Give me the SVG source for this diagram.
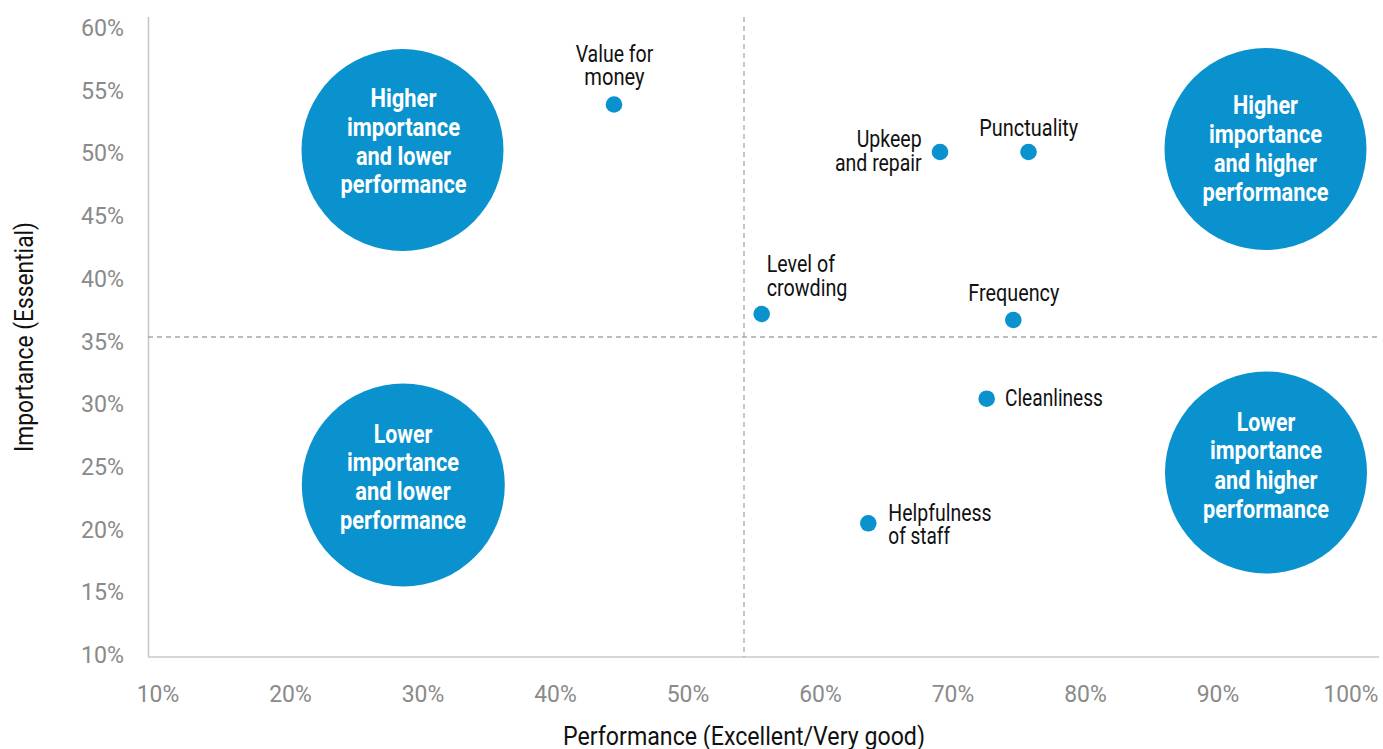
<svg xmlns="http://www.w3.org/2000/svg" width="1383" height="749" viewBox="0 0 1383 749">
<style>
.ax{stroke:#c8c8c8;stroke-width:1.6;fill:none}
.dash{stroke:#a8a8a8;stroke-width:1.3;stroke-dasharray:5 4;fill:none}
.tick{font-family:Roboto,"Liberation Sans",sans-serif;font-size:24px;fill:#8a8a8a}
.ty{text-anchor:end}
.tx{text-anchor:middle}
.title{font-family:Roboto,"Liberation Sans",sans-serif;font-size:25px;fill:#111;text-anchor:middle}
.lbl{font-family:Roboto,"Liberation Sans",sans-serif;font-size:23.5px;fill:#111}
.dot{fill:#0a92cf}
.bub{fill:#0a92cf}
.bt{font-family:Roboto,"Liberation Sans",sans-serif;font-size:25px;font-weight:bold;fill:#fff;text-anchor:middle}
</style>
<rect width="1383" height="749" fill="#fff"/>
<g id="axes">
<line class="ax" x1="148.5" y1="17" x2="148.5" y2="657"/>
<line class="ax" x1="148" y1="657" x2="1379" y2="657"/>
<g class="tick ty">
<text x="124" y="36" textLength="43" lengthAdjust="spacingAndGlyphs">60%</text>
<text x="124" y="98.7" textLength="43" lengthAdjust="spacingAndGlyphs">55%</text>
<text x="124" y="161.4" textLength="43" lengthAdjust="spacingAndGlyphs">50%</text>
<text x="124" y="224.1" textLength="43" lengthAdjust="spacingAndGlyphs">45%</text>
<text x="124" y="286.8" textLength="43" lengthAdjust="spacingAndGlyphs">40%</text>
<text x="124" y="349.5" textLength="43" lengthAdjust="spacingAndGlyphs">35%</text>
<text x="124" y="412.2" textLength="43" lengthAdjust="spacingAndGlyphs">30%</text>
<text x="124" y="474.9" textLength="43" lengthAdjust="spacingAndGlyphs">25%</text>
<text x="124" y="537.6" textLength="43" lengthAdjust="spacingAndGlyphs">20%</text>
<text x="124" y="600.3" textLength="43" lengthAdjust="spacingAndGlyphs">15%</text>
<text x="124" y="663" textLength="43" lengthAdjust="spacingAndGlyphs">10%</text>
</g>
<g class="tick tx">
<text x="158" y="701.7" textLength="42.5" lengthAdjust="spacingAndGlyphs">10%</text>
<text x="290.5" y="701.7" textLength="42.5" lengthAdjust="spacingAndGlyphs">20%</text>
<text x="423" y="701.7" textLength="42.5" lengthAdjust="spacingAndGlyphs">30%</text>
<text x="555.5" y="701.7" textLength="42.5" lengthAdjust="spacingAndGlyphs">40%</text>
<text x="688" y="701.7" textLength="42.5" lengthAdjust="spacingAndGlyphs">50%</text>
<text x="820.5" y="701.7" textLength="42.5" lengthAdjust="spacingAndGlyphs">60%</text>
<text x="953" y="701.7" textLength="42.5" lengthAdjust="spacingAndGlyphs">70%</text>
<text x="1085.5" y="701.7" textLength="42.5" lengthAdjust="spacingAndGlyphs">80%</text>
<text x="1218" y="701.7" textLength="42.5" lengthAdjust="spacingAndGlyphs">90%</text>
<text x="1351" y="701.7" textLength="55" lengthAdjust="spacingAndGlyphs">100%</text>
</g>
<text class="title" x="744" y="745" textLength="362" lengthAdjust="spacingAndGlyphs">Performance (Excellent/Very good)</text>
<text class="title" transform="translate(33,337) rotate(-90)" x="0" y="0" textLength="230" lengthAdjust="spacingAndGlyphs">Importance (Essential)</text>
</g>
<g id="connectors">
<line class="dash" x1="744" y1="17" x2="744" y2="657"/>
<line class="dash" x1="148" y1="337" x2="1379" y2="337"/>
</g>
<g id="bubble-high-imp-low-perf">
<circle class="bub" cx="402.5" cy="150" r="101"/>
<text class="bt" x="403.5" y="107" textLength="66" lengthAdjust="spacingAndGlyphs">Higher</text>
<text class="bt" x="403.5" y="136" textLength="113" lengthAdjust="spacingAndGlyphs">importance</text>
<text class="bt" x="403.5" y="165" textLength="95" lengthAdjust="spacingAndGlyphs">and lower</text>
<text class="bt" x="403.5" y="193" textLength="126" lengthAdjust="spacingAndGlyphs">performance</text>
</g>
<g id="bubble-high-imp-high-perf">
<circle class="bub" cx="1265.5" cy="149" r="101"/>
<text class="bt" x="1265.5" y="113.5" textLength="65" lengthAdjust="spacingAndGlyphs">Higher</text>
<text class="bt" x="1265.5" y="142.5" textLength="113" lengthAdjust="spacingAndGlyphs">importance</text>
<text class="bt" x="1265.5" y="172" textLength="103" lengthAdjust="spacingAndGlyphs">and higher</text>
<text class="bt" x="1265.5" y="200.5" textLength="126" lengthAdjust="spacingAndGlyphs">performance</text>
</g>
<g id="bubble-low-imp-low-perf">
<circle class="bub" cx="403.3" cy="485" r="101.5"/>
<text class="bt" x="403" y="442.5" textLength="58.5" lengthAdjust="spacingAndGlyphs">Lower</text>
<text class="bt" x="403" y="471" textLength="112" lengthAdjust="spacingAndGlyphs">importance</text>
<text class="bt" x="403" y="500" textLength="95.5" lengthAdjust="spacingAndGlyphs">and lower</text>
<text class="bt" x="403" y="529" textLength="126" lengthAdjust="spacingAndGlyphs">performance</text>
</g>
<g id="bubble-low-imp-high-perf">
<circle class="bub" cx="1266" cy="472.5" r="101"/>
<text class="bt" x="1266" y="430.5" textLength="58.5" lengthAdjust="spacingAndGlyphs">Lower</text>
<text class="bt" x="1266" y="459" textLength="112" lengthAdjust="spacingAndGlyphs">importance</text>
<text class="bt" x="1266" y="488.5" textLength="103" lengthAdjust="spacingAndGlyphs">and higher</text>
<text class="bt" x="1266" y="517.5" textLength="126" lengthAdjust="spacingAndGlyphs">performance</text>
</g>
<g id="value-for-money">
<circle class="dot" cx="614" cy="104.5" r="8.3"/>
<text class="lbl" x="614.5" y="61.7" text-anchor="middle" textLength="77.7" lengthAdjust="spacingAndGlyphs">Value for</text>
<text class="lbl" x="614.5" y="85" text-anchor="middle" textLength="60.3" lengthAdjust="spacingAndGlyphs">money</text>
</g>
<g id="upkeep-and-repair">
<circle class="dot" cx="940" cy="152" r="8.3"/>
<text class="lbl" x="921.7" y="147" text-anchor="end" textLength="65" lengthAdjust="spacingAndGlyphs">Upkeep</text>
<text class="lbl" x="921.7" y="170.5" text-anchor="end" textLength="86.7" lengthAdjust="spacingAndGlyphs">and repair</text>
</g>
<g id="punctuality">
<circle class="dot" cx="1028.5" cy="152" r="8.3"/>
<text class="lbl" x="979.3" y="136" textLength="99" lengthAdjust="spacingAndGlyphs">Punctuality</text>
</g>
<g id="level-of-crowding">
<circle class="dot" cx="761.7" cy="314" r="8.3"/>
<text class="lbl" x="766.7" y="272.3" textLength="68.3" lengthAdjust="spacingAndGlyphs">Level of</text>
<text class="lbl" x="766.7" y="295.5" textLength="80.7" lengthAdjust="spacingAndGlyphs">crowding</text>
</g>
<g id="frequency">
<circle class="dot" cx="1013.3" cy="320" r="8.3"/>
<text class="lbl" x="968.3" y="301" textLength="91" lengthAdjust="spacingAndGlyphs">Frequency</text>
</g>
<g id="cleanliness">
<circle class="dot" cx="986.7" cy="398.7" r="8.3"/>
<text class="lbl" x="1005" y="405.7" textLength="98" lengthAdjust="spacingAndGlyphs">Cleanliness</text>
</g>
<g id="helpfulness-of-staff">
<circle class="dot" cx="868.3" cy="523.3" r="8.3"/>
<text class="lbl" x="888.3" y="520.7" textLength="103.3" lengthAdjust="spacingAndGlyphs">Helpfulness</text>
<text class="lbl" x="888.3" y="544.3" textLength="61.7" lengthAdjust="spacingAndGlyphs">of staff</text>
</g>
</svg>
